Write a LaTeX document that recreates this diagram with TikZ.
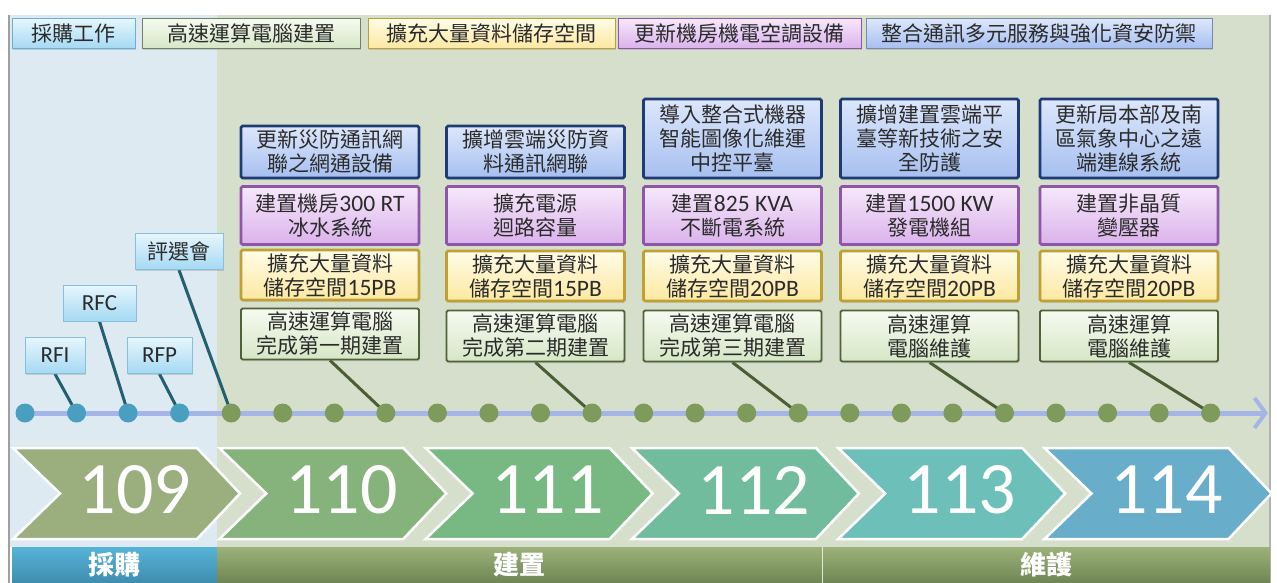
\documentclass[tikz,border=0pt]{standalone}
\usepackage{fontspec}
\setmainfont{Carlito}
\newfontfamily\cjk{Noto Sans CJK TC}
\newfontfamily\latf{Carlito}[Scale=1.12]
\newcommand\lat[1]{{\latf #1}}
\usetikzlibrary{arrows.meta,shadows}
\pgfdeclarelayer{back}
\pgfdeclarelayer{conn}
\pgfsetlayers{back,conn,main}
\definecolor{bgblue}{HTML}{DDEAF2}
\definecolor{bggreen}{HTML}{D6DFCC}
\definecolor{navyb}{HTML}{1F3B73}
\definecolor{bluet}{HTML}{DDE7FB}
\definecolor{blueb}{HTML}{A6BFF0}
\definecolor{purd}{HTML}{8E55A8}
\definecolor{purt}{HTML}{F6E8FB}
\definecolor{purb}{HTML}{DBB2EB}
\definecolor{yeld}{HTML}{BFA033}
\definecolor{yelt}{HTML}{FFFCE8}
\definecolor{yelb}{HTML}{FDE8A0}
\definecolor{grnd}{HTML}{4F6339}
\definecolor{grnt}{HTML}{F6FAF0}
\definecolor{grnb}{HTML}{D6E6C6}
\definecolor{cyd}{HTML}{6AAFD4}
\definecolor{cyt}{HTML}{E6F6FD}
\definecolor{cyb}{HTML}{A5D9F3}
\definecolor{tline}{HTML}{A5B5E8}
\definecolor{dotb}{HTML}{4A9EBF}
\definecolor{dotg}{HTML}{7E9B5B}
\definecolor{connb}{HTML}{22606F}
\definecolor{conng}{HTML}{4A5E33}
\definecolor{txt}{HTML}{2B2B2B}
\definecolor{c109}{HTML}{9AAE7E}
\definecolor{c110}{HTML}{86B37C}
\definecolor{c111}{HTML}{78B882}
\definecolor{c112}{HTML}{70BC9C}
\definecolor{c113}{HTML}{6DC0B9}
\definecolor{c114}{HTML}{68AECB}
\definecolor{bandbt}{HTML}{56B3D8}
\definecolor{bandbb}{HTML}{3F8DAE}
\definecolor{bandgt}{HTML}{9DB27A}
\definecolor{bandgb}{HTML}{6E8553}
\begin{document}
\begin{tikzpicture}[x=1pt,y=-1pt,
  cjkfont/.style={font=\cjk\fontsize{21}{24}\selectfont},
  box/.style={cjkfont, draw, line width=2.6pt, rounded corners=1.5pt, minimum width=178pt,
    align=center, inner sep=0pt, text=txt,
    drop shadow={shadow xshift=1.2pt,shadow yshift=-1.5pt,opacity=0.3}},
  bluebox/.style={box, draw=navyb, top color=bluet, bottom color=blueb},
  purbox/.style={box, draw=purd, top color=purt, bottom color=purb, minimum height=58pt},
  yelbox/.style={box, draw=yeld, top color=yelt, bottom color=yelb, minimum height=50pt},
  grnbox/.style={box, draw=grnd, line width=1.8pt, top color=grnt, bottom color=grnb, minimum height=51pt},
  legend/.style={cjkfont, draw, line width=1pt, minimum height=30pt, inner sep=0pt, text=txt,
    drop shadow={shadow xshift=1pt,shadow yshift=-1.2pt,opacity=0.3}},
  tag/.style={draw=cyd!80, line width=1pt, top color=cyt, bottom color=cyb, inner sep=0pt,
    minimum height=36pt, text=txt, drop shadow={shadow xshift=1pt,shadow yshift=-1.2pt,opacity=0.3}},
  dot/.style={circle, inner sep=0pt, minimum size=19pt},
  bconn/.style={draw=connb, line width=3pt},
  gconn/.style={draw=conng, line width=3pt},
  num/.style={text=white, inner sep=0pt, font=\fontsize{74}{74}\selectfont},
  band/.style={inner sep=0pt, minimum height=36pt, text=white, font=\cjk\bfseries\fontsize{26}{28}\selectfont}
]
\useasboundingbox (0,0) rectangle (1277,583);
\begin{pgfonlayer}{back}
  \fill[white] (0,0) rectangle (1277,583);
  \fill[bgblue] (9,15) rectangle (217,547);
  \fill[bggreen] (217,15) rectangle (1270,547);
  \draw[gray!75, line width=2pt] (9,15) -- (9,583);
  \draw[gray!60, line width=1.5pt] (1270,15) -- (1270,583);
\end{pgfonlayer}

% legend
\node[legend, top color=cyt, bottom color=cyb, draw=cyd, minimum width=123pt] (l1) at (73.5,33.5) {採購工作};
\node[legend, top color=grnt, bottom color=grnb, draw=grnd!80, minimum width=218pt] (l2) at (251,33.5) {高速運算電腦建置};
\node[legend, top color=yelt, bottom color=yelb, draw=yeld, minimum width=247pt] (l3) at (491.5,33.5) {擴充大量資料儲存空間};
\node[legend, top color=purt, bottom color=purb, draw=purd, minimum width=243pt] (l4) at (739.5,33.5) {更新機房機電空調設備};
\node[legend, top color=bluet, bottom color=blueb, draw=navyb!60, minimum width=346pt] (l5) at (1039,33.5) {整合通訊多元服務與強化資安防禦};

% column 1
\node[bluebox, minimum height=52pt] (b1) at (330,152) {更新災防通訊網\\聯之網通設備};
\node[purbox] (p1) at (330,215.5) {建置機房\lat{300 RT}\\冰水系統};
\node[yelbox] (y1) at (330,275) {擴充大量資料\\儲存空間\lat{15PB}};
\node[grnbox] (g1) at (330,334) {高速運算電腦\\完成第一期建置};
% column 2
\node[bluebox, minimum height=52pt] (b2) at (535.5,152) {擴增雲端災防資\\料通訊網聯};
\node[purbox] (p2) at (535.5,215.5) {擴充電源\\迴路容量};
\node[yelbox] (y2) at (535.5,276) {擴充大量資料\\儲存空間\lat{15PB}};
\node[grnbox] (g2) at (535.5,336) {高速運算電腦\\完成第二期建置};
% column 3
\node[bluebox, minimum height=79pt] (b3) at (732.5,138.5) {導入整合式機器\\智能圖像化維運\\中控平臺};
\node[purbox] (p3) at (732.5,215.5) {建置\lat{825 KVA}\\不斷電系統};
\node[yelbox] (y3) at (732.5,276) {擴充大量資料\\儲存空間\lat{20PB}};
\node[grnbox] (g3) at (732.5,336) {高速運算電腦\\完成第三期建置};
% column 4
\node[bluebox, minimum height=79pt] (b4) at (929.5,138.5) {擴增建置雲端平\\臺等新技術之安\\全防護};
\node[purbox] (p4) at (929.5,215.5) {建置\lat{1500 KW}\\發電機組};
\node[yelbox] (y4) at (929.5,276) {擴充大量資料\\儲存空間\lat{20PB}};
\node[grnbox] (g4) at (929.5,336) {高速運算\\電腦維護};
% column 5
\node[bluebox, minimum height=79pt] (b5) at (1129,138.5) {更新局本部及南\\區氣象中心之遠\\端連線系統};
\node[purbox] (p5) at (1129,215.5) {建置非晶質\\變壓器};
\node[yelbox] (y5) at (1129,276) {擴充大量資料\\儲存空間\lat{20PB}};
\node[grnbox] (g5) at (1129,336) {高速運算\\電腦維護};

% procurement tags
\node[tag, minimum width=60pt, font=\fontsize{23}{24}\selectfont] (rfi) at (55,355.5) {RFI};
\node[tag, minimum width=73pt, font=\fontsize{23}{24}\selectfont] (rfc) at (99.5,303) {RFC};
\node[tag, minimum width=65pt, font=\fontsize{23}{24}\selectfont] (rfp) at (159.5,355.5) {RFP};
\node[tag, minimum width=88pt, cjkfont] (pxh) at (179,251.5) {評選會};

% timeline dots
\foreach \i in {0,...,3} {\node[dot, fill=dotb] (d\i) at ({25+51.55*\i},413) {};}
\foreach \i in {4,...,23} {\node[dot, fill=dotg] (d\i) at ({25+51.55*\i},413) {};}
\coordinate (tip) at (1268,413);

\begin{pgfonlayer}{conn}
  \draw[tline, line width=5pt, -{Straight Barb[length=11pt,width=30pt,line width=4pt]}] (d0.center) -- (tip);
  \draw[bconn] (rfi.south) -- (d1.center);
  \draw[bconn] (rfc.south) -- (d2.center);
  \draw[bconn] (rfp.south) -- (d3.center);
  \draw[bconn] (pxh.south) -- (d4.center);
  \draw[gconn] (g1.south) -- (d7.center);
  \draw[gconn] (g2.south) -- (d11.center);
  \draw[gconn] (g3.south) -- (d15.center);
  \draw[gconn] (g4.south) -- (d19.center);
  \draw[gconn] (g5.south) -- (d23.center);
\end{pgfonlayer}

% year chevrons
\foreach \i/\c/\t in {0/c109/109,1/c110/110,2/c111/111,3/c112/112,4/c113/113,5/c114/114} {
  \pgfmathsetmacro\L{13+206.3*\i}
  \filldraw[fill=\c, draw=white, line width=2.5pt, line join=miter]
    (\L,448) -- ++(184,0) -- ++(43,45.5) -- ++(-43,45.5) -- ++(-184,0) -- ++(47,-45.5) -- cycle;
  \node[num] (y\t) at (\L+122,490) {\t};
}

% phase band
\node[band, top color=bandbt, bottom color=bandbb, minimum width=205pt] (ph1) at (114.5,565) {採購};
\node[band, top color=bandgt, bottom color=bandgb, minimum width=605pt] (ph2) at (519.5,565) {建置};
\node[band, top color=bandgt, bottom color=bandgb, minimum width=448pt] (ph3) at (1046,565) {維護};
\draw[white!70!bandgt, line width=1pt] (ph2.north east) -- (ph2.south east);
\end{tikzpicture}
\end{document}
